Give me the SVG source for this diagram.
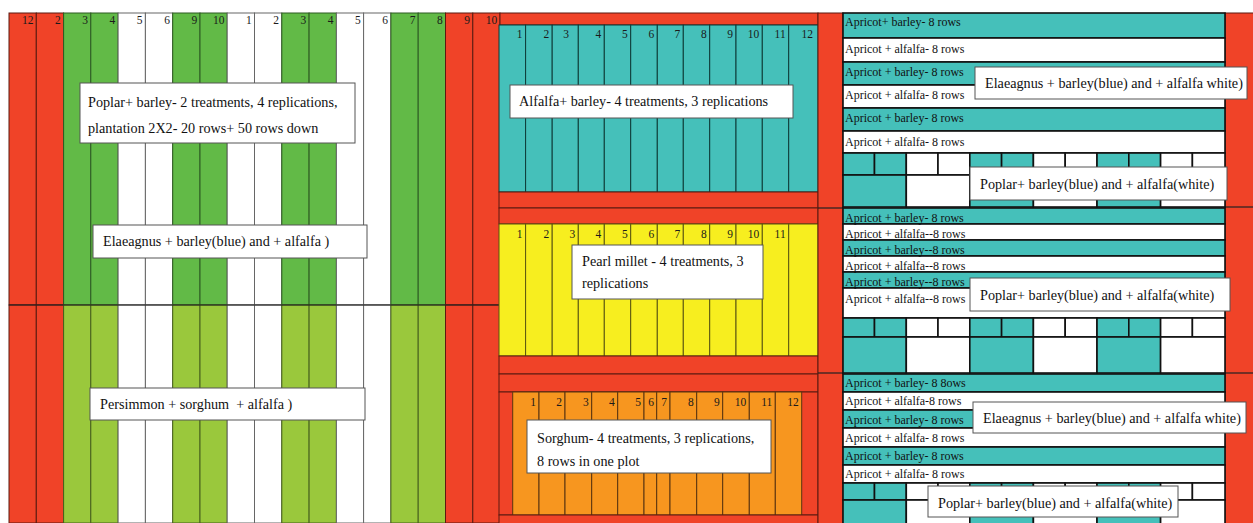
<svg xmlns="http://www.w3.org/2000/svg" width="1253" height="523" viewBox="0 0 1253 523">
<style>
.r{fill:#F04328;stroke:#5a1a10;stroke-width:1}
.g{fill:#62BA47;stroke:#2d5a22;stroke-width:1}
.lg{fill:#9AC83C;stroke:#46601c;stroke-width:1}
.w{fill:#fff;stroke:#666;stroke-width:1}
.t{fill:#45C0BA;stroke:#0d3b38;stroke-width:1}
.y{fill:#F7EE1F;stroke:#5a5510;stroke-width:1}
.o{fill:#F7961F;stroke:#5a3510;stroke-width:1}
.rt{fill:#45C0BA;stroke:#111;stroke-width:1.6}
.rw{fill:#fff;stroke:#111;stroke-width:1.6}
.n{font-family:"Liberation Serif","DejaVu Serif",serif;font-size:11.5px;fill:#1a1a1a;text-anchor:end}
.s{font-family:"Liberation Serif","DejaVu Serif",serif;font-size:12px;fill:#111}
.lb{fill:#fff;stroke:#555;stroke-width:1}
.lt{font-family:"Liberation Serif","DejaVu Serif",serif;font-size:14.2px;fill:#111}
.ln{stroke:#222;stroke-width:1.2}
</style>
<rect width="1253" height="523" fill="#fff"/>
<g id="left-field">
<rect class="r" x="9" y="13" width="27.3" height="292"/>
<rect class="r" x="36.3" y="13" width="27.3" height="292"/>
<rect class="g" x="63.6" y="13" width="27.2" height="292"/>
<rect class="g" x="90.8" y="13" width="27.3" height="292"/>
<rect class="w" x="118.1" y="13" width="27.3" height="292"/>
<rect class="w" x="145.4" y="13" width="27.3" height="292"/>
<rect class="g" x="172.7" y="13" width="27.3" height="292"/>
<rect class="g" x="200" y="13" width="27.2" height="292"/>
<rect class="w" x="227.2" y="13" width="27.3" height="292"/>
<rect class="w" x="254.5" y="13" width="27.3" height="292"/>
<rect class="g" x="281.8" y="13" width="27.3" height="292"/>
<rect class="g" x="309.1" y="13" width="27.3" height="292"/>
<rect class="w" x="336.4" y="13" width="27.2" height="292"/>
<rect class="w" x="363.6" y="13" width="27.3" height="292"/>
<rect class="g" x="390.9" y="13" width="27.3" height="292"/>
<rect class="g" x="418.2" y="13" width="27.3" height="292"/>
<rect class="r" x="445.5" y="13" width="27.3" height="292"/>
<rect class="r" x="472.8" y="13" width="27.2" height="292"/>
<rect class="r" x="9" y="305" width="27.3" height="218"/>
<rect class="r" x="36.3" y="305" width="27.3" height="218"/>
<rect class="lg" x="63.6" y="305" width="27.2" height="218"/>
<rect class="lg" x="90.8" y="305" width="27.3" height="218"/>
<rect class="w" x="118.1" y="305" width="27.3" height="218"/>
<rect class="w" x="145.4" y="305" width="27.3" height="218"/>
<rect class="lg" x="172.7" y="305" width="27.3" height="218"/>
<rect class="lg" x="200" y="305" width="27.2" height="218"/>
<rect class="w" x="227.2" y="305" width="27.3" height="218"/>
<rect class="w" x="254.5" y="305" width="27.3" height="218"/>
<rect class="lg" x="281.8" y="305" width="27.3" height="218"/>
<rect class="lg" x="309.1" y="305" width="27.3" height="218"/>
<rect class="w" x="336.4" y="305" width="27.2" height="218"/>
<rect class="w" x="363.6" y="305" width="27.3" height="218"/>
<rect class="lg" x="390.9" y="305" width="27.3" height="218"/>
<rect class="lg" x="418.2" y="305" width="27.3" height="218"/>
<rect class="r" x="445.5" y="305" width="27.3" height="218"/>
<rect class="r" x="472.8" y="305" width="27.2" height="218"/>
<line class="ln" x1="9" y1="305" x2="500" y2="305"/>
<text class="n" x="33.5" y="24">12</text>
<text class="n" x="60.8" y="24">2</text>
<text class="n" x="88" y="24">3</text>
<text class="n" x="115.3" y="24">4</text>
<text class="n" x="142.6" y="24">5</text>
<text class="n" x="169.9" y="24">6</text>
<text class="n" x="197.2" y="24">9</text>
<text class="n" x="224.4" y="24">10</text>
<text class="n" x="251.7" y="24">1</text>
<text class="n" x="279" y="24">2</text>
<text class="n" x="306.3" y="24">3</text>
<text class="n" x="333.6" y="24">4</text>
<text class="n" x="360.8" y="24">5</text>
<text class="n" x="388.1" y="24">6</text>
<text class="n" x="415.4" y="24">7</text>
<text class="n" x="442.7" y="24">8</text>
<text class="n" x="470" y="24">9</text>
<text class="n" x="497.2" y="24">10</text>
</g>
<g id="center-field">
<rect class="r" x="500" y="13" width="318" height="12"/>
<rect class="t" x="499" y="25" width="26.6" height="167"/>
<rect class="t" x="525.6" y="25" width="26.6" height="167"/>
<rect class="t" x="552.2" y="25" width="26.1" height="167"/>
<rect class="t" x="578.3" y="25" width="26" height="167"/>
<rect class="t" x="604.3" y="25" width="26.4" height="167"/>
<rect class="t" x="630.7" y="25" width="26.6" height="167"/>
<rect class="t" x="657.3" y="25" width="26" height="167"/>
<rect class="t" x="683.3" y="25" width="26.4" height="167"/>
<rect class="t" x="709.7" y="25" width="26.3" height="167"/>
<rect class="t" x="736" y="25" width="26.3" height="167"/>
<rect class="t" x="762.3" y="25" width="26.4" height="167"/>
<rect class="t" x="788.7" y="25" width="29.3" height="167"/>
<text class="n" x="522.5" y="38">1</text>
<text class="n" x="549.2" y="38">2</text>
<text class="n" x="569" y="38">3</text>
<text class="n" x="601.3" y="38">4</text>
<text class="n" x="627.7" y="38">5</text>
<text class="n" x="654.3" y="38">6</text>
<text class="n" x="680.3" y="38">7</text>
<text class="n" x="706.7" y="38">8</text>
<text class="n" x="733" y="38">9</text>
<text class="n" x="759.3" y="38">10</text>
<text class="n" x="785.7" y="38">11</text>
<text class="n" x="813" y="38">12</text>
<rect class="r" x="499" y="192" width="319" height="16"/>
<rect class="r" x="499" y="208" width="319" height="16"/>
<rect class="y" x="499" y="224" width="26.6" height="132"/>
<rect class="y" x="525.6" y="224" width="26.6" height="132"/>
<rect class="y" x="552.2" y="224" width="26.1" height="132"/>
<rect class="y" x="578.3" y="224" width="26" height="132"/>
<rect class="y" x="604.3" y="224" width="26.4" height="132"/>
<rect class="y" x="630.7" y="224" width="26.6" height="132"/>
<rect class="y" x="657.3" y="224" width="26" height="132"/>
<rect class="y" x="683.3" y="224" width="26.4" height="132"/>
<rect class="y" x="709.7" y="224" width="26.3" height="132"/>
<rect class="y" x="736" y="224" width="26.3" height="132"/>
<rect class="y" x="762.3" y="224" width="26.4" height="132"/>
<rect class="y" x="788.7" y="224" width="29.3" height="132"/>
<text class="n" x="522.5" y="238">1</text>
<text class="n" x="549.2" y="238">2</text>
<text class="n" x="575.3" y="238">3</text>
<text class="n" x="601.3" y="238">4</text>
<text class="n" x="627.7" y="238">5</text>
<text class="n" x="654.3" y="238">6</text>
<text class="n" x="680.3" y="238">7</text>
<text class="n" x="706.7" y="238">8</text>
<text class="n" x="733" y="238">9</text>
<text class="n" x="759.3" y="238">10</text>
<text class="n" x="785.7" y="238">11</text>
<rect class="r" x="499" y="356" width="319" height="18"/>
<rect class="r" x="499" y="374" width="319" height="18"/>
<rect class="r" x="499" y="392" width="319" height="123"/>
<rect class="o" x="512.7" y="392" width="26.3" height="123"/>
<rect class="o" x="539" y="392" width="26" height="123"/>
<rect class="o" x="565" y="392" width="26.7" height="123"/>
<rect class="o" x="591.7" y="392" width="26" height="123"/>
<rect class="o" x="617.7" y="392" width="26.3" height="123"/>
<rect class="o" x="644" y="392" width="12.7" height="123"/>
<rect class="o" x="656.7" y="392" width="13.3" height="123"/>
<rect class="o" x="670" y="392" width="26.7" height="123"/>
<rect class="o" x="696.7" y="392" width="26" height="123"/>
<rect class="o" x="722.7" y="392" width="26.6" height="123"/>
<rect class="o" x="749.3" y="392" width="26" height="123"/>
<rect class="o" x="775.3" y="392" width="26.4" height="123"/>
<text class="n" x="536" y="406">1</text>
<text class="n" x="562" y="406">2</text>
<text class="n" x="588.7" y="406">3</text>
<text class="n" x="614.7" y="406">4</text>
<text class="n" x="641" y="406">5</text>
<text class="n" x="654" y="406">6</text>
<text class="n" x="667" y="406">7</text>
<text class="n" x="693.7" y="406">8</text>
<text class="n" x="719.7" y="406">9</text>
<text class="n" x="746.3" y="406">10</text>
<text class="n" x="772.3" y="406">11</text>
<text class="n" x="798.7" y="406">12</text>
<rect class="r" x="499" y="515" width="319" height="10"/>
<rect class="r" x="818" y="13" width="25" height="512"/>
<line class="ln" x1="818" y1="208" x2="843" y2="208"/>
<line class="ln" x1="818" y1="373" x2="843" y2="373"/>
</g>
<g id="right-field">
<rect class="r" x="1225" y="13" width="30" height="512"/>
<line class="ln" x1="1225" y1="207" x2="1253" y2="207"/>
<line class="ln" x1="1225" y1="373" x2="1253" y2="373"/>
<rect class="rt" x="843" y="13" width="382" height="25"/>
<rect class="rw" x="843" y="38" width="382" height="24"/>
<rect class="rt" x="843" y="62" width="382" height="23"/>
<rect class="rw" x="843" y="85" width="382" height="23"/>
<rect class="rt" x="843" y="108" width="382" height="23"/>
<rect class="rw" x="843" y="131" width="382" height="22"/>
<text class="s" x="845" y="26">Apricot+ barley- 8 rows</text>
<text class="s" x="845" y="53">Apricot + alfalfa- 8 rows</text>
<text class="s" x="845" y="76">Apricot + barley- 8 rows</text>
<text class="s" x="845" y="99">Apricot + alfalfa- 8 rows</text>
<text class="s" x="845" y="122">Apricot + barley- 8 rows</text>
<text class="s" x="845" y="146">Apricot + alfalfa- 8 rows</text>
<g id="grid-1">
<rect class="rt" x="843" y="153" width="31.5" height="22"/>
<rect class="rt" x="874.5" y="153" width="31.8" height="22"/>
<rect class="rw" x="906.3" y="153" width="31.7" height="22"/>
<rect class="rw" x="938" y="153" width="31.8" height="22"/>
<rect class="rt" x="969.8" y="153" width="31.8" height="22"/>
<rect class="rt" x="1001.6" y="153" width="31.8" height="22"/>
<rect class="rw" x="1033.4" y="153" width="31.8" height="22"/>
<rect class="rw" x="1065.2" y="153" width="31.8" height="22"/>
<rect class="rt" x="1097" y="153" width="31.8" height="22"/>
<rect class="rt" x="1128.8" y="153" width="31.8" height="22"/>
<rect class="rw" x="1160.6" y="153" width="31.8" height="22"/>
<rect class="rw" x="1192.4" y="153" width="32.6" height="22"/>
<rect class="rt" x="843" y="175" width="63.3" height="32"/>
<rect class="rw" x="906.3" y="175" width="63.5" height="32"/>
<rect class="rt" x="969.8" y="175" width="63.6" height="32"/>
<rect class="rw" x="1033.4" y="175" width="63.6" height="32"/>
<rect class="rt" x="1097" y="175" width="63.6" height="32"/>
<rect class="rw" x="1160.6" y="175" width="64.4" height="32"/>
</g>
<rect class="rt" x="843" y="208" width="382" height="16"/>
<rect class="rw" x="843" y="224" width="382" height="16"/>
<rect class="rt" x="843" y="240" width="382" height="16"/>
<rect class="rw" x="843" y="256" width="382" height="16"/>
<rect class="rt" x="843" y="272" width="382" height="16"/>
<rect class="rw" x="843" y="288" width="382" height="30"/>
<text class="s" x="845" y="222">Apricot + barley- 8 rows</text>
<text class="s" x="845" y="238">Apricot + alfalfa--8 rows</text>
<text class="s" x="845" y="254">Apricot + barley--8 rows</text>
<text class="s" x="845" y="270">Apricot + alfalfa--8 rows</text>
<text class="s" x="845" y="286">Apricot + barley--8 rows</text>
<text class="s" x="845" y="303">Apricot + alfalfa--8 rows</text>
<g id="grid-2">
<rect class="rt" x="843" y="318" width="31.5" height="19"/>
<rect class="rt" x="874.5" y="318" width="31.8" height="19"/>
<rect class="rw" x="906.3" y="318" width="31.7" height="19"/>
<rect class="rw" x="938" y="318" width="31.8" height="19"/>
<rect class="rt" x="969.8" y="318" width="31.8" height="19"/>
<rect class="rt" x="1001.6" y="318" width="31.8" height="19"/>
<rect class="rw" x="1033.4" y="318" width="31.8" height="19"/>
<rect class="rw" x="1065.2" y="318" width="31.8" height="19"/>
<rect class="rt" x="1097" y="318" width="31.8" height="19"/>
<rect class="rt" x="1128.8" y="318" width="31.8" height="19"/>
<rect class="rw" x="1160.6" y="318" width="31.8" height="19"/>
<rect class="rw" x="1192.4" y="318" width="32.6" height="19"/>
<rect class="rt" x="843" y="337" width="63.3" height="36"/>
<rect class="rw" x="906.3" y="337" width="63.5" height="36"/>
<rect class="rt" x="969.8" y="337" width="63.6" height="36"/>
<rect class="rw" x="1033.4" y="337" width="63.6" height="36"/>
<rect class="rt" x="1097" y="337" width="63.6" height="36"/>
<rect class="rw" x="1160.6" y="337" width="64.4" height="36"/>
</g>
<rect class="rt" x="843" y="374" width="382" height="18"/>
<rect class="rw" x="843" y="392" width="382" height="18"/>
<rect class="rt" x="843" y="410" width="382" height="18"/>
<rect class="rw" x="843" y="428" width="382" height="19"/>
<rect class="rt" x="843" y="447" width="382" height="18"/>
<rect class="rw" x="843" y="465" width="382" height="18"/>
<text class="s" x="845" y="387">Apricot + barley- 8 8ows</text>
<text class="s" x="845" y="405">Apricot + alfalfa-8 rows</text>
<text class="s" x="845" y="424">Apricot + barley- 8 rows</text>
<text class="s" x="845" y="442">Apricot + alfalfa- 8 rows</text>
<text class="s" x="845" y="460">Apricot + barley- 8 rows</text>
<text class="s" x="845" y="478">Apricot + alfalfa- 8 rows</text>
<g id="grid-3">
<rect class="rt" x="843" y="483" width="31.5" height="17"/>
<rect class="rt" x="874.5" y="483" width="31.8" height="17"/>
<rect class="rw" x="906.3" y="483" width="31.7" height="17"/>
<rect class="rw" x="938" y="483" width="31.8" height="17"/>
<rect class="rt" x="969.8" y="483" width="31.8" height="17"/>
<rect class="rt" x="1001.6" y="483" width="31.8" height="17"/>
<rect class="rw" x="1033.4" y="483" width="31.8" height="17"/>
<rect class="rw" x="1065.2" y="483" width="31.8" height="17"/>
<rect class="rt" x="1097" y="483" width="31.8" height="17"/>
<rect class="rt" x="1128.8" y="483" width="31.8" height="17"/>
<rect class="rw" x="1160.6" y="483" width="31.8" height="17"/>
<rect class="rw" x="1192.4" y="483" width="32.6" height="17"/>
<rect class="rt" x="843" y="500" width="63.3" height="26"/>
<rect class="rw" x="906.3" y="500" width="63.5" height="26"/>
<rect class="rt" x="969.8" y="500" width="63.6" height="26"/>
<rect class="rw" x="1033.4" y="500" width="63.6" height="26"/>
<rect class="rt" x="1097" y="500" width="63.6" height="26"/>
<rect class="rw" x="1160.6" y="500" width="64.4" height="26"/>
</g>
</g>
<g id="label-poplar-barley">
<rect class="lb" x="80" y="83" width="275" height="60"/>
<text class="lt" x="88" y="107">Poplar+ barley- 2 treatments, 4 replications,</text>
<text class="lt" x="88" y="133">plantation 2X2- 20 rows+ 50 rows down</text>
</g>
<g id="label-elaeagnus-left">
<rect class="lb" x="93" y="225" width="274" height="33"/>
<text class="lt" x="103" y="246">Elaeagnus + barley(blue) and + alfalfa )</text>
</g>
<g id="label-persimmon">
<rect class="lb" x="90" y="388" width="275" height="32"/>
<text class="lt" x="100" y="409" xml:space="preserve">Persimmon + sorghum  + alfalfa )</text>
</g>
<g id="label-alfalfa-barley">
<rect class="lb" x="510" y="85" width="283" height="33"/>
<text class="lt" x="519" y="106">Alfalfa+ barley- 4 treatments, 3 replications</text>
</g>
<g id="label-pearl-millet">
<rect class="lb" x="572" y="245" width="191" height="54"/>
<text class="lt" x="582" y="266">Pearl millet - 4 treatments, 3</text>
<text class="lt" x="582" y="288">replications</text>
</g>
<g id="label-sorghum">
<rect class="lb" x="527" y="420" width="244" height="53"/>
<text class="lt" x="537" y="443">Sorghum- 4 treatments, 3 replications,</text>
<text class="lt" x="537" y="466">8 rows in one plot</text>
</g>
<g id="label-elaeagnus-r1">
<rect class="lb" x="975" y="67" width="272" height="32"/>
<text class="lt" x="985" y="88">Elaeagnus + barley(blue) and + alfalfa white)</text>
</g>
<g id="label-poplar-r1">
<rect class="lb" x="970" y="167" width="257" height="33"/>
<text class="lt" x="980" y="189">Poplar+ barley(blue) and + alfalfa(white)</text>
</g>
<g id="label-poplar-r2">
<rect class="lb" x="970" y="278" width="260" height="33"/>
<text class="lt" x="980" y="300">Poplar+ barley(blue) and + alfalfa(white)</text>
</g>
<g id="label-elaeagnus-r2">
<rect class="lb" x="973" y="402" width="273" height="31"/>
<text class="lt" x="983" y="423">Elaeagnus + barley(blue) and + alfalfa white)</text>
</g>
<g id="label-poplar-r3">
<rect class="lb" x="928" y="486" width="250" height="31"/>
<text class="lt" x="938" y="508">Poplar+ barley(blue) and + alfalfa(white)</text>
</g>
</svg>
